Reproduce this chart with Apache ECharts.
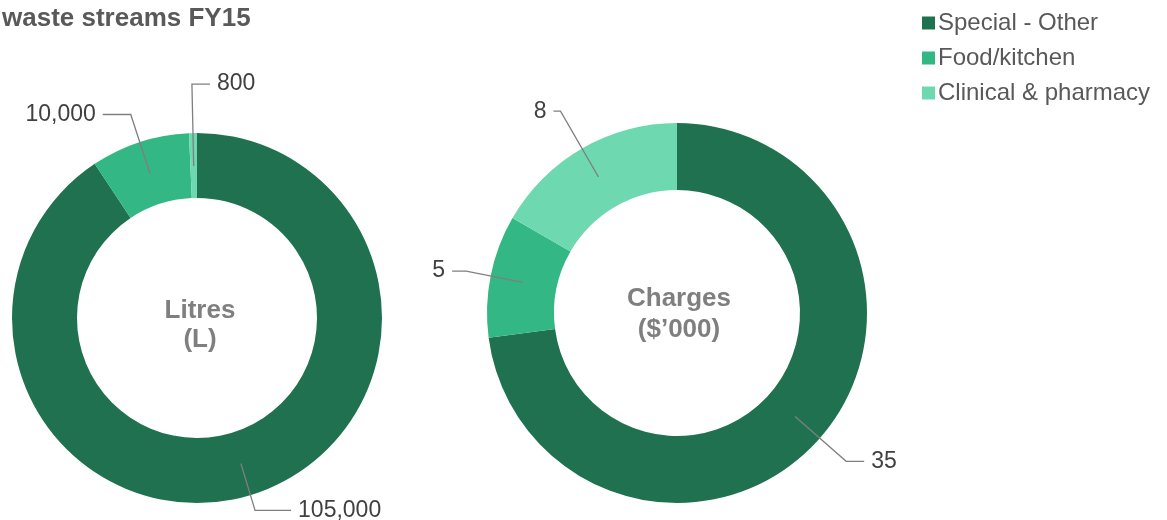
<!DOCTYPE html>
<html>
<head>
<meta charset="utf-8">
<script src="https://cdn.jsdelivr.net/npm/echarts@6/dist/echarts.min.js"></script>
<style>
  html, body { margin: 0; padding: 0; background: #fff; }
  #chart { width: 1167px; height: 520px; }
</style>
</head>
<body>
<div id="chart"></div>
<script>
var categories = ['Special - Other', 'Food/kitchen', 'Clinical & pharmacy'];
var litres = [105000, 10000, 800];
var charges = [35, 5, 8];

var colorArr = ['#1f7150', '#33b784', '#6ed8b1'];
// leader line segment lengths, one per slice
var litresLineLen = [49, 62, 82];
var litresLineLen2 = [36, 28, 18];
var chargesLineLen = [68, 58, 76];
var chargesLineLen2 = [18, 14, 7];

function toData(values, lens, lens2) {
    return values.map(function (v, i) {
        var d = { name: categories[i], value: v };
        if (lens) d.labelLine = { length: lens[i], length2: lens2[i] };
        return d;
    });
}

function ring(center, radius, values) {
    return {
        type: 'pie',
        center: center,
        radius: radius,
        startAngle: 90,
        clockwise: true,
        silent: true,
        label: { show: false },
        labelLine: { show: false },
        emphasis: { disabled: true },
        data: toData(values)
    };
}

// invisible pie whose rim sits mid-ring, only carries the leader lines + labels
function labels(center, r, values, lens, lens2, flipIndex) {
    return {
        type: 'pie',
        center: center,
        radius: [0, r],
        startAngle: 90,
        clockwise: true,
        silent: true,
        z: 5,
        itemStyle: { color: 'transparent' },
        emphasis: { disabled: true },
        label: {
            show: true,
            position: 'outside',
            color: '#404040',
            fontSize: 23,
            fontFamily: 'Liberation Sans, Arial, sans-serif',
            distanceToLabelLine: 7,
            formatter: function (p) {
                return echarts.format.addCommas(p.value);
            }
        },
        labelLine: {
            show: true,
            lineStyle: { color: '#7f7f7f', width: 1.3 }
        },
        labelLayout: function (p) {
            // tiny slice just left of 12 o'clock: send its label to the right
            if (p.dataIndex !== flipIndex || !p.labelLinePoints) return;
            var pts = p.labelLinePoints;
            var len2 = Math.abs(pts[2][0] - pts[1][0]);
            var end = [pts[1][0] + len2, pts[1][1]];
            return {
                x: end[0] + 7,
                y: end[1],
                align: 'left',
                verticalAlign: 'middle',
                labelLinePoints: [pts[0], pts[1], end]
            };
        },
        data: toData(values, lens, lens2)
    };
}

var option = {
    color: colorArr,
    animation: false,
    title: {
        text: 'waste streams FY15',
        left: -3,
        top: 1,
        textStyle: {
            color: '#595959',
            fontSize: 26,
            fontWeight: 'bold',
            fontFamily: 'Liberation Sans, Arial, sans-serif'
        }
    },
    legend: {
        orient: 'vertical',
        left: 917,
        top: 6,
        itemWidth: 13,
        itemHeight: 13,
        itemGap: 11,
        icon: 'rect',
        data: categories,
        textStyle: {
            color: '#595959',
            fontSize: 24,
            fontFamily: 'Liberation Sans, Arial, sans-serif',
            padding: [0, 0, 0, -2]
        }
    },
    graphic: [
        {
            type: 'text',
            x: 200,
            y: 325,
            style: {
                text: 'Litres\n(L)',
                align: 'center',
                verticalAlign: 'middle',
                fill: '#7f7f7f',
                font: 'bold 26px Liberation Sans, Arial, sans-serif',
                lineHeight: 29
            }
        },
        {
            type: 'text',
            x: 679,
            y: 314,
            style: {
                text: 'Charges\n($\u2019000)',
                align: 'center',
                verticalAlign: 'middle',
                fill: '#7f7f7f',
                font: 'bold 26px Liberation Sans, Arial, sans-serif',
                lineHeight: 31
            }
        }
    ],
    series: [
        ring([197, 318], [120, 185], litres),
        labels([197, 318], 152, litres, litresLineLen, litresLineLen2, 2),
        ring([677, 313], [123, 190], charges),
        labels([677, 313], 157, charges, chargesLineLen, chargesLineLen2, -1)
    ]
};

var chart = echarts.init(document.getElementById('chart'));
chart.setOption(option);
</script>
</body>
</html>
